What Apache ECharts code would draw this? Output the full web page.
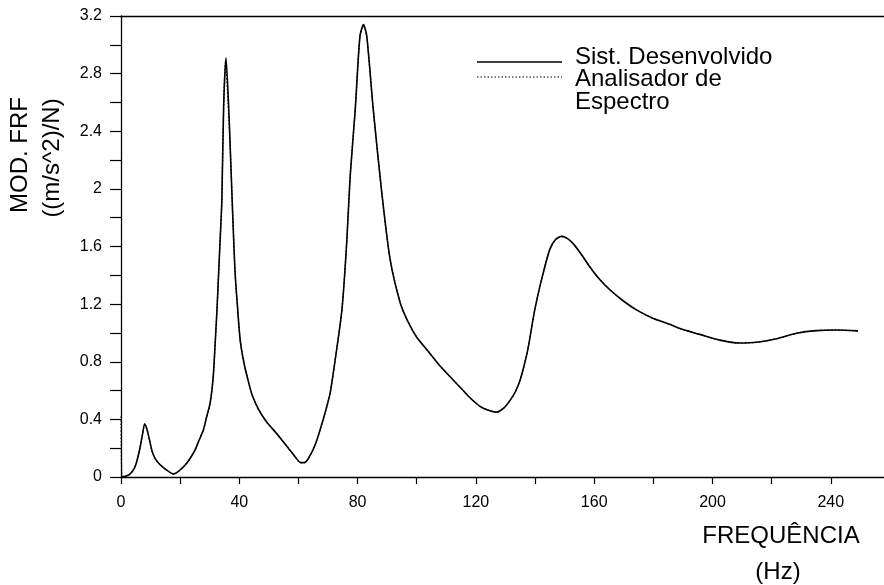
<!DOCTYPE html>
<html>
<head>
<meta charset="utf-8">
<script src="https://cdn.jsdelivr.net/npm/echarts@6/dist/echarts.min.js"></script>
<style>
html,body{margin:0;padding:0;background:#fff;}
#chart{width:884px;height:585px;}
</style>
</head>
<body>
<div id="chart"></div>
<script>
// Frequency (Hz) and FRF magnitude ((m/s^2)/N)
var sistFreq = [0,1.5,3,4.5,5.5,6.5,7.3,8.0,8.8,9.5,10.5,11.5,13,15,17.8,19.5,21.7,23.4,25.1,26.5,27.9,29.0,30.2,31.2,31.9,32.5,33.0,33.6,34.1,34.7,35.5,36.4,37.0,37.5,38.0,38.6,39.4,40.3,41.5,43.1,44.5,46.5,49.3,51.0,53.5,56.6,58.5,60.8,62.0,63.4,65.6,67.5,69.2,70.7,72.4,74.7,76.3,77.5,79.2,80.8,82.0,83.1,85.3,88.2,91.0,94.4,97.0,100.0,104.0,107.9,112.0,115.7,118.0,121.4,124.0,127.0,129.5,131.5,133.3,134.9,136.5,137.7,139.9,142.2,145.0,147.0,149.0,151.0,152.9,155.5,158.5,161.5,165.3,170.0,174.3,180.0,185.6,189.0,195.7,202.5,209.2,214.9,221.6,228.4,235.1,241.9,249.2];
var sistFrf = [0,0.005,0.02,0.06,0.12,0.21,0.30,0.37,0.33,0.27,0.18,0.13,0.09,0.055,0.02,0.04,0.083,0.13,0.19,0.26,0.33,0.42,0.52,0.70,0.95,1.18,1.41,1.68,1.92,2.57,2.91,2.57,2.25,1.97,1.70,1.41,1.18,0.95,0.80,0.66,0.56,0.47,0.38,0.34,0.28,0.20,0.15,0.10,0.10,0.13,0.22,0.34,0.46,0.58,0.81,1.16,1.62,2.09,2.55,3.06,3.14,3.06,2.55,1.97,1.51,1.21,1.08,0.97,0.87,0.77,0.68,0.60,0.55,0.49,0.465,0.45,0.48,0.53,0.59,0.67,0.79,0.90,1.16,1.37,1.58,1.65,1.67,1.655,1.62,1.55,1.46,1.38,1.30,1.22,1.16,1.10,1.06,1.03,0.99,0.95,0.93,0.935,0.96,0.998,1.016,1.02,1.014];

var analFreq = [0,0.4,1.5,3,4.5,5.5,6.5,7.3,8.0,8.8,9.5,10.5,11.5,13,15,17.8,19.5,21.7,23.4,25.1,26.5,27.9,29.0,30.2,31.2,31.9,32.5,33.0,33.6,34.1,34.7,35.3,36.2,37.0,37.5,38.0,38.6,39.4,40.3,41.5,43.1,44.5,46.5,49.3,51.0,53.5,56.6,58.5,60.8,62.0,63.4,65.6,67.5,69.2,70.7,72.4,74.7,76.3,77.5,79.2,80.8,82.0,83.1,85.3,88.2,91.0,94.4,97.0,100.0,104.0,107.9,112.0,115.7,118.0,121.4,124.0,127.0,129.5,131.5,133.3,134.9,136.5,137.7,139.9,142.2,145.0,147.0,149.0,151.0,152.9,155.5,158.5,161.5,165.3,170.0,174.3,180.0,185.6,189.0,195.7,202.5,209.2,214.9,221.6,228.4,235.1,241.9,249.2];
var analFrf = [0.42,0.005,0.005,0.02,0.06,0.12,0.21,0.30,0.36,0.33,0.27,0.18,0.13,0.09,0.055,0.02,0.04,0.083,0.13,0.19,0.26,0.33,0.42,0.52,0.70,0.95,1.18,1.41,1.68,1.92,2.55,2.88,2.60,2.25,1.97,1.70,1.41,1.18,0.95,0.80,0.66,0.56,0.47,0.38,0.34,0.28,0.20,0.15,0.10,0.10,0.13,0.22,0.34,0.46,0.58,0.81,1.16,1.62,2.09,2.55,3.06,3.13,3.06,2.55,1.97,1.51,1.21,1.08,0.97,0.87,0.77,0.68,0.60,0.55,0.49,0.465,0.45,0.48,0.53,0.59,0.67,0.79,0.90,1.16,1.37,1.58,1.65,1.67,1.655,1.62,1.55,1.46,1.38,1.30,1.22,1.16,1.10,1.06,1.03,0.99,0.95,0.93,0.935,0.96,0.998,1.016,1.02,1.014];

var xTickLabels = ['0','40','80','120','160','200','240'];
var yTickLabels = ['0','0.4','0.8','1.2','1.6','2','2.4','2.8','3.2'];

function pairs(xs, ys){ return xs.map(function(x,i){ return [x, ys[i]]; }); }

var FONT = '"Liberation Sans", Arial, Helvetica, sans-serif';
var chart = echarts.init(document.getElementById('chart'), null, {renderer:'canvas'});
chart.setOption({
  animation:false,
  backgroundColor:'#fff',
  grid:{left:121, right:0, top:16, bottom:108, containLabel:false},
  xAxis:[{
    type:'value', min:0, max:258, interval:20,
    axisLine:{show:true, onZero:false, lineStyle:{color:'#000', width:1.3}},
    axisTick:{show:true, inside:false, length:7, lineStyle:{color:'#000', width:1.2}},
    splitLine:{show:false},
    axisLabel:{margin:18, color:'#000', fontSize:16, fontFamily:FONT, showMaxLabel:false,
      formatter:function(v){ var s=String(Math.round(v)); return xTickLabels.indexOf(s)>=0 && Math.abs(v-Math.round(v))<1e-6 ? s : ''; }}
  },{
    type:'value', position:'top', min:0, max:258,
    axisLine:{show:true, onZero:false, lineStyle:{color:'#000', width:1.3}},
    axisTick:{show:false}, axisLabel:{show:false}, splitLine:{show:false}
  }],
  yAxis:{
    type:'value', min:0, max:3.2, interval:0.2,
    axisLine:{show:true, onZero:false, lineStyle:{color:'#000', width:1.3}},
    axisTick:{show:true, inside:false, length:11, lineStyle:{color:'#000', width:1.2}},
    splitLine:{show:false},
    axisLabel:{margin:19, color:'#000', fontSize:16, fontFamily:FONT,
      formatter:function(v){ var s=String(Math.round(v*10)/10); return yTickLabels.indexOf(s)>=0 ? s : ''; }}
  },
  series:[{
    name:'Analisador de Espectro', type:'line', data:pairs(analFreq, analFrf),
    showSymbol:false, symbol:'none', smooth:0.25, z:2,
    lineStyle:{color:'#000', width:1.2, type:[1.5,2]}
  },{
    name:'Sist. Desenvolvido', type:'line', data:pairs(sistFreq, sistFrf),
    showSymbol:false, symbol:'none', smooth:0.25, z:3,
    lineStyle:{color:'#000', width:1.6, type:'solid'}
  }],
  graphic:[
    {type:'text', x:20, y:155, rotation:Math.PI/2, style:{text:'MOD. FRF', font:'24px '+FONT, fill:'#000', textAlign:'center', textVerticalAlign:'middle', align:'center', verticalAlign:'middle'}},
    {type:'text', x:52, y:158, rotation:Math.PI/2, style:{text:'((m/s^2)/N)', font:'24px '+FONT, fill:'#000', textAlign:'center', textVerticalAlign:'middle', align:'center', verticalAlign:'middle'}},
    {type:'text', x:781, y:536, style:{text:'FREQUÊNCIA', font:'24px '+FONT, fill:'#000', textAlign:'center', textVerticalAlign:'middle', align:'center', verticalAlign:'middle'}},
    {type:'text', x:778, y:572, style:{text:'(Hz)', font:'24px '+FONT, fill:'#000', textAlign:'center', textVerticalAlign:'middle', align:'center', verticalAlign:'middle'}},
    {type:'line', shape:{x1:477, y1:62, x2:562, y2:62}, style:{stroke:'#000', lineWidth:1.5}},
    {type:'line', shape:{x1:477, y1:77, x2:562, y2:77}, style:{stroke:'#000', lineWidth:1.2, lineDash:[1.5,2]}},
    {type:'text', x:575, y:57, style:{text:'Sist. Desenvolvido', font:'24px '+FONT, fill:'#000', textAlign:'left', textVerticalAlign:'middle', align:'left', verticalAlign:'middle'}},
    {type:'text', x:575, y:79, style:{text:'Analisador de', font:'24px '+FONT, fill:'#000', textAlign:'left', textVerticalAlign:'middle', align:'left', verticalAlign:'middle'}},
    {type:'text', x:575, y:102, style:{text:'Espectro', font:'24px '+FONT, fill:'#000', textAlign:'left', textVerticalAlign:'middle', align:'left', verticalAlign:'middle'}}
  ]
});
</script>
</body>
</html>
